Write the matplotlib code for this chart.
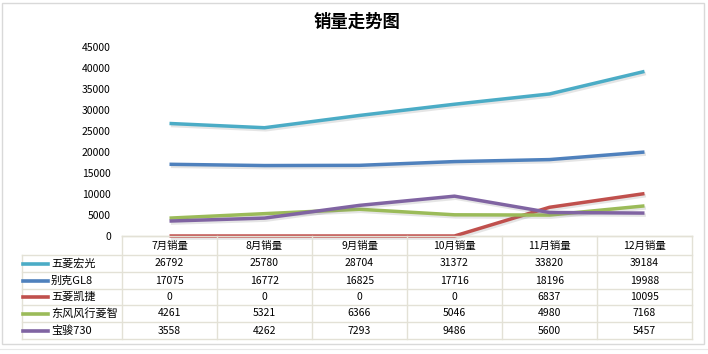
import matplotlib

matplotlib.use("Agg")

import matplotlib.pyplot as plt
import matplotlib.patheffects as pe
from matplotlib.patches import Rectangle

plt.rcParams["font.family"] = ["Noto Sans CJK SC", "DejaVu Sans"]

months = ["7月销量", "8月销量", "9月销量", "10月销量", "11月销量", "12月销量"]
series_names = ["五菱宏光", "别克GL8", "五菱凯捷", "东风风行菱智", "宝骏730"]
hongguang = [26792, 25780, 28704, 31372, 33820, 39184]
buick_gl8 = [17075, 16772, 16825, 17716, 18196, 19988]
kaijie = [0, 0, 0, 0, 6837, 10095]
lingzhi = [4261, 5321, 6366, 5046, 4980, 7168]
baojun730 = [3558, 4262, 7293, 9486, 5600, 5457]
y_ticks = [0, 5000, 10000, 15000, 20000, 25000, 30000, 35000, 40000, 45000]

all_series = [hongguang, buick_gl8, kaijie, lingzhi, baojun730]
colors = ["#4BACC6", "#4F81BD", "#C0504D", "#9BBB59", "#8064A2"]
grid_color = "#E3E1D6"

W, H = 708, 354
fig = plt.figure(figsize=(W / 100, H / 100), dpi=100)
fig.patch.set_facecolor("white")

# chart frame sitting on the spreadsheet
fig.add_artist(Rectangle((2 / W, 1 - 344 / H), 702 / W, 341 / H,
                         transform=fig.transFigure, fill=False,
                         edgecolor="#D9D9D9", linewidth=1))
fig.add_artist(plt.Line2D([0, 1], [1 - 349 / H] * 2, color="#E8E8E8", linewidth=0.8))

left, right, top, bottom = 122, 692, 47, 236
ax = fig.add_axes([left / W, 1 - bottom / H, (right - left) / W, (bottom - top) / H])
x = list(range(len(months)))

shadow = [pe.SimpleLineShadow(offset=(1, -1.5), alpha=0.2, shadow_color="gray"), pe.Normal()]
for vals, c in zip(all_series, colors):
    ax.plot(x, vals, color=c, linewidth=2.5, solid_capstyle="butt",
            path_effects=shadow, zorder=3, clip_on=False)

ax.set_xlim(-0.5, len(months) - 0.5)
ax.set_ylim(0, 45000)
ax.set_yticks(y_ticks)
ax.set_yticklabels([str(v) for v in y_ticks], fontsize=7.5)
ax.tick_params(axis="y", length=0, pad=8)
ax.set_xticks([])
for s in ["top", "right", "left"]:
    ax.spines[s].set_visible(False)
ax.spines["bottom"].set_color(grid_color)
ax.spines["bottom"].set_linewidth(1)

fig.text(357 / W, 1 - 22 / H, "销量走势图", ha="center", va="center",
         fontsize=12.5, fontweight="bold")

# data table under the plot (pixel rows)
row_edges = [236, 255, 272, 289, 305, 322, 339]
tab_left = 22
col_edges = [left + (right - left) * i / len(months) for i in range(len(months) + 1)]


def fy(p):
    return 1 - p / H


def fx(p):
    return p / W


line_kw = dict(color=grid_color, linewidth=1, transform=fig.transFigure)
# horizontal lines
fig.add_artist(plt.Line2D([fx(left), fx(right)], [fy(row_edges[0])] * 2, **line_kw))
for r in row_edges[1:]:
    fig.add_artist(plt.Line2D([fx(tab_left), fx(right)], [fy(r)] * 2, **line_kw))
# vertical lines
fig.add_artist(plt.Line2D([fx(tab_left)] * 2, [fy(row_edges[1]), fy(row_edges[-1])], **line_kw))
for cx in col_edges:
    fig.add_artist(plt.Line2D([fx(cx)] * 2, [fy(row_edges[0]), fy(row_edges[-1])], **line_kw))

# header
for i, m in enumerate(months):
    xc = (col_edges[i] + col_edges[i + 1]) / 2
    fig.text(fx(xc), fy((row_edges[0] + row_edges[1]) / 2), m,
             ha="center", va="center", fontsize=7.5)

# rows with legend keys
for j, (name, vals, c) in enumerate(zip(series_names, all_series, colors)):
    yc = fy((row_edges[j + 1] + row_edges[j + 2]) / 2)
    fig.add_artist(plt.Line2D([fx(23), fx(48)], [yc, yc], color=c, linewidth=2.6,
                              transform=fig.transFigure))
    fig.text(fx(51), yc, name, ha="left", va="center", fontsize=8)
    for i, v in enumerate(vals):
        xc = (col_edges[i] + col_edges[i + 1]) / 2
        fig.text(fx(xc), yc, str(v), ha="center", va="center", fontsize=7.5)

fig.savefig("out.png", dpi=100)
plt.close(fig)
